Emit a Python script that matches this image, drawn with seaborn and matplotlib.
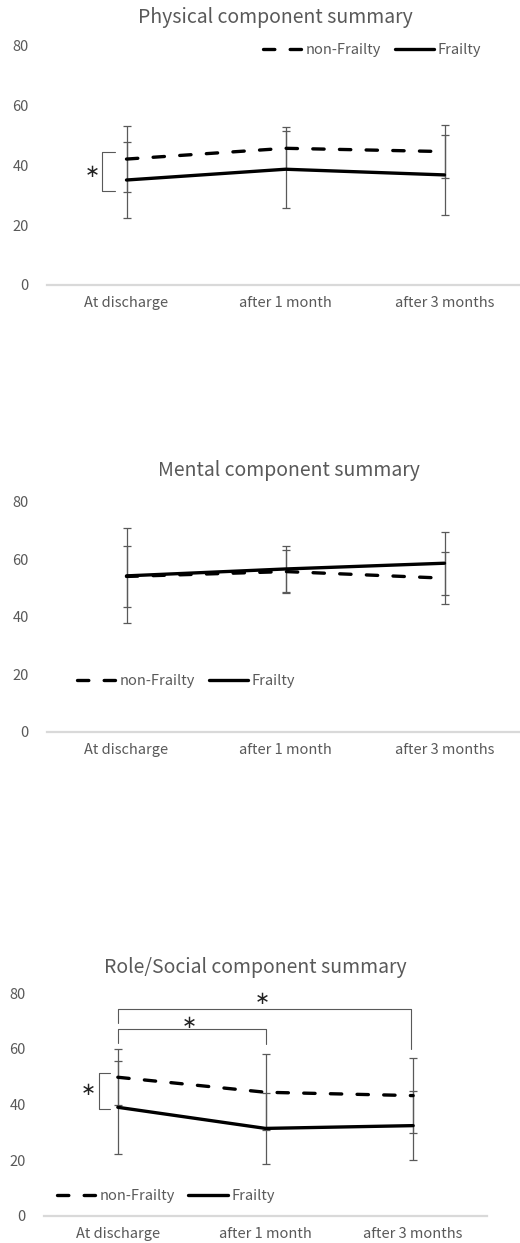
import numpy as np
import pandas as pd
import matplotlib
matplotlib.use('Agg')
import matplotlib.pyplot as plt
from matplotlib.lines import Line2D
import seaborn as sns

sns.set_theme(style='white')
plt.rcParams['font.family'] = ['Noto Sans CJK JP', 'DejaVu Sans']

# ---------------------------------------------------------------------------
# data (mean ± SD)
# ---------------------------------------------------------------------------
time_labels = ['At discharge', 'after 1 month', 'after 3 months']
groups = ['non-Frailty', 'Frailty']

pcs_non = [42.1, 45.7, 44.6]
pcs_non_sd = [10.9, 7.0, 8.9]
pcs_fr = [35.1, 38.7, 36.8]
pcs_fr_sd = [12.8, 12.9, 13.4]

mcs_non = [54.0, 55.7, 53.4]
mcs_non_sd = [10.6, 7.5, 9.0]
mcs_fr = [54.2, 56.6, 58.6]
mcs_fr_sd = [16.5, 7.9, 11.0]

rcs_non = [49.8, 44.4, 43.2]
rcs_non_sd = [10.0, 13.7, 13.4]
rcs_fr = [39.0, 31.4, 32.4]
rcs_fr_sd = [16.7, 12.8, 12.3]

GREY = '#595959'
AXIS_GREY = '#d9d9d9'
DASH = (3.4, 4.6)
LW = 2.4

fig = plt.figure(figsize=(5.2, 12.43), dpi=100)


def make_df(non, fr):
    return pd.DataFrame({
        'time': list(range(len(time_labels))) * 2,
        'score': non + fr,
        'group': [groups[0]] * len(non) + [groups[1]] * len(fr),
    })


def bracket_between(ax, x0, x1, y0_left, y0_right, y_top):
    # horizontal significance bracket between two time points
    ax.plot([x0, x0, x1, x1], [y0_left, y_top, y_top, y0_right],
            color=GREY, lw=0.8, zorder=4)


def side_bracket(ax, x_line, x_tick, y_lo, y_hi):
    # vertical bracket left of the first time point
    ax.plot([x_tick, x_line, x_line, x_tick], [y_hi, y_hi, y_lo, y_lo],
            color=GREY, lw=0.8, zorder=4)


def star(ax, x, y):
    ax.text(x, y, '∗', ha='center', va='center', fontsize=13,
            family='DejaVu Sans', color='#222222')


def draw_panel(rect, title, title_xy, non, non_sd, fr, fr_sd, leg_xy):
    ax = fig.add_axes(rect)
    x = np.arange(len(time_labels))
    for mean, sd in ((non, non_sd), (fr, fr_sd)):
        ax.errorbar(x, mean, yerr=sd, fmt='none', ecolor=GREY,
                    elinewidth=0.9, capsize=2.6, capthick=0.9, zorder=2)
    sns.lineplot(data=make_df(non, fr), x='time', y='score', style='group',
                 style_order=groups, dashes={groups[0]: DASH, groups[1]: ''},
                 color='black', linewidth=LW, dash_capstyle='round',
                 legend=False, ax=ax, zorder=3)

    ax.set_xlim(-0.5, len(time_labels) - 0.5)
    ax.set_ylim(0, 80)
    ax.set_yticks([0, 20, 40, 60, 80])
    ax.set_xticks(x)
    ax.set_xticklabels(time_labels)
    ax.set_xlabel('')
    ax.set_ylabel('')
    ax.tick_params(axis='x', length=0, labelsize=10.5, labelcolor=GREY, pad=8)
    ax.tick_params(axis='y', length=0, labelsize=10.5, labelcolor=GREY, pad=13)
    for side in ['top', 'right', 'left']:
        ax.spines[side].set_visible(False)
    ax.spines['bottom'].set_color(AXIS_GREY)
    ax.spines['bottom'].set_linewidth(1.6)
    ax.patch.set_alpha(0)

    handles = [
        Line2D([], [], color='black', lw=LW, dashes=DASH, dash_capstyle='round'),
        Line2D([], [], color='black', lw=LW),
    ]
    leg = ax.legend(handles, groups, loc='center left', bbox_to_anchor=leg_xy,
                    ncol=2, frameon=False, fontsize=10.5, handlelength=2.7,
                    handletextpad=0.25, columnspacing=0.9, borderpad=0,
                    borderaxespad=0)
    for t in leg.get_texts():
        t.set_color(GREY)

    fig.text(title_xy[0], title_xy[1], title, ha='center', va='center',
             fontsize=14, color=GREY)
    return ax


H = 1243.0
W = 520.0

ax1 = draw_panel([47 / W, (H - 285) / H, 477 / W, 239.3 / H],
                 'Physical component summary', (275 / W, 1 - 17.5 / H),
                 pcs_non, pcs_non_sd, pcs_fr, pcs_fr_sd, (0.453, 0.982))
side_bracket(ax1, -0.152, -0.072, 31.5, 44.4)
star(ax1, -0.215, 37.9)

ax2 = draw_panel([47 / W, (H - 731.7) / H, 477 / W, 230 / H],
                 'Mental component summary', (288.7 / W, 1 - 470.5 / H),
                 mcs_non, mcs_non_sd, mcs_fr, mcs_fr_sd, (0.063, 0.22))

ax3 = draw_panel([44 / W, (H - 1215.7) / H, 443 / W, 222.4 / H],
                 'Role/Social component summary', (255 / W, 1 - 967.5 / H),
                 rcs_non, rcs_non_sd, rcs_fr, rcs_fr_sd, (0.029, 0.089))
side_bracket(ax3, -0.13, -0.053, 38.5, 51.2)
star(ax3, -0.20, 45.2)
bracket_between(ax3, 0, 1.985, 69.2, 59.9, 74.2)
star(ax3, 0.975, 77.8)
bracket_between(ax3, 0, 1.0, 62.0, 61.6, 67.0)
star(ax3, 0.484, 69.4)

fig.savefig('out.png', dpi=100, facecolor='white')
